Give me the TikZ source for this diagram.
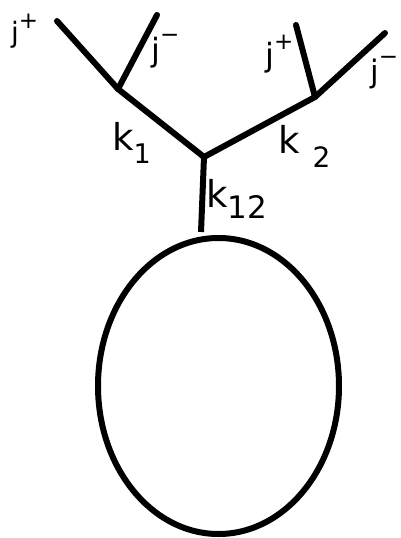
\documentclass[tikz,border=0pt]{standalone}
\usepackage{fontspec}
\setmainfont{DejaVu Sans}
\usetikzlibrary{shapes.geometric}
\begin{document}
\begin{tikzpicture}[x=1pt,y=-1pt,
  leg/.style={line width=6pt,line cap=round,line join=round},
  loopline/.style={line width=6pt},
  lbl/.style={inner sep=0pt,anchor=base west}]
\useasboundingbox (0,0) rectangle (400,538);
% vertices and ends
\coordinate (ljp) at (57,21);
\coordinate (ljm) at (157,15);
\coordinate (lv) at (118,89);
\coordinate (cv) at (204,157);
\coordinate (rv) at (315,97);
\coordinate (rjp) at (296,25);
\coordinate (rjm) at (385,33);
\coordinate (bot) at (201,232);
\draw[leg] (ljp) -- (lv) -- (cv) -- (rv) -- (rjm);
\draw[leg] (ljm) -- (lv);
\draw[leg] (rjp) -- (rv);
\draw[leg,line cap=butt] (cv) -- (bot);
\node[draw,loopline,ellipse,minimum width=241pt,minimum height=296pt,inner sep=0pt] (loop) at (218.5,386) {};
% labels
\node[lbl,font=\fontsize{28}{28}\selectfont] (t1) at (11,42) {j\raisebox{14pt}{\fontsize{23}{23}\selectfont +}};
\node[lbl,font=\fontsize{32}{32}\selectfont] (t2) at (151,61) {j\raisebox{19pt}{\fontsize{23}{23}\selectfont −}};
\node[lbl,font=\fontsize{32}{32}\selectfont] (t3) at (265,66) {j\raisebox{17pt}{\fontsize{23}{23}\selectfont +}};
\node[lbl,font=\fontsize{31}{31}\selectfont] (t4) at (370,82) {j\raisebox{18pt}{\fontsize{23}{23}\selectfont −}};
\node[lbl,font=\fontsize{37}{37}\selectfont] (k1) at (112,150) {k\raisebox{-13pt}{\fontsize{27}{27}\selectfont 1}};
\node[lbl,font=\fontsize{37}{37}\selectfont] (k2) at (278,153) {k\hspace{13pt}\raisebox{-14pt}{\fontsize{28}{28}\selectfont 2}};
\node[lbl,font=\fontsize{37}{37}\selectfont] (k12) at (206,207) {k\raisebox{-11pt}{\fontsize{31}{31}\selectfont 12}};
\end{tikzpicture}
\end{document}
